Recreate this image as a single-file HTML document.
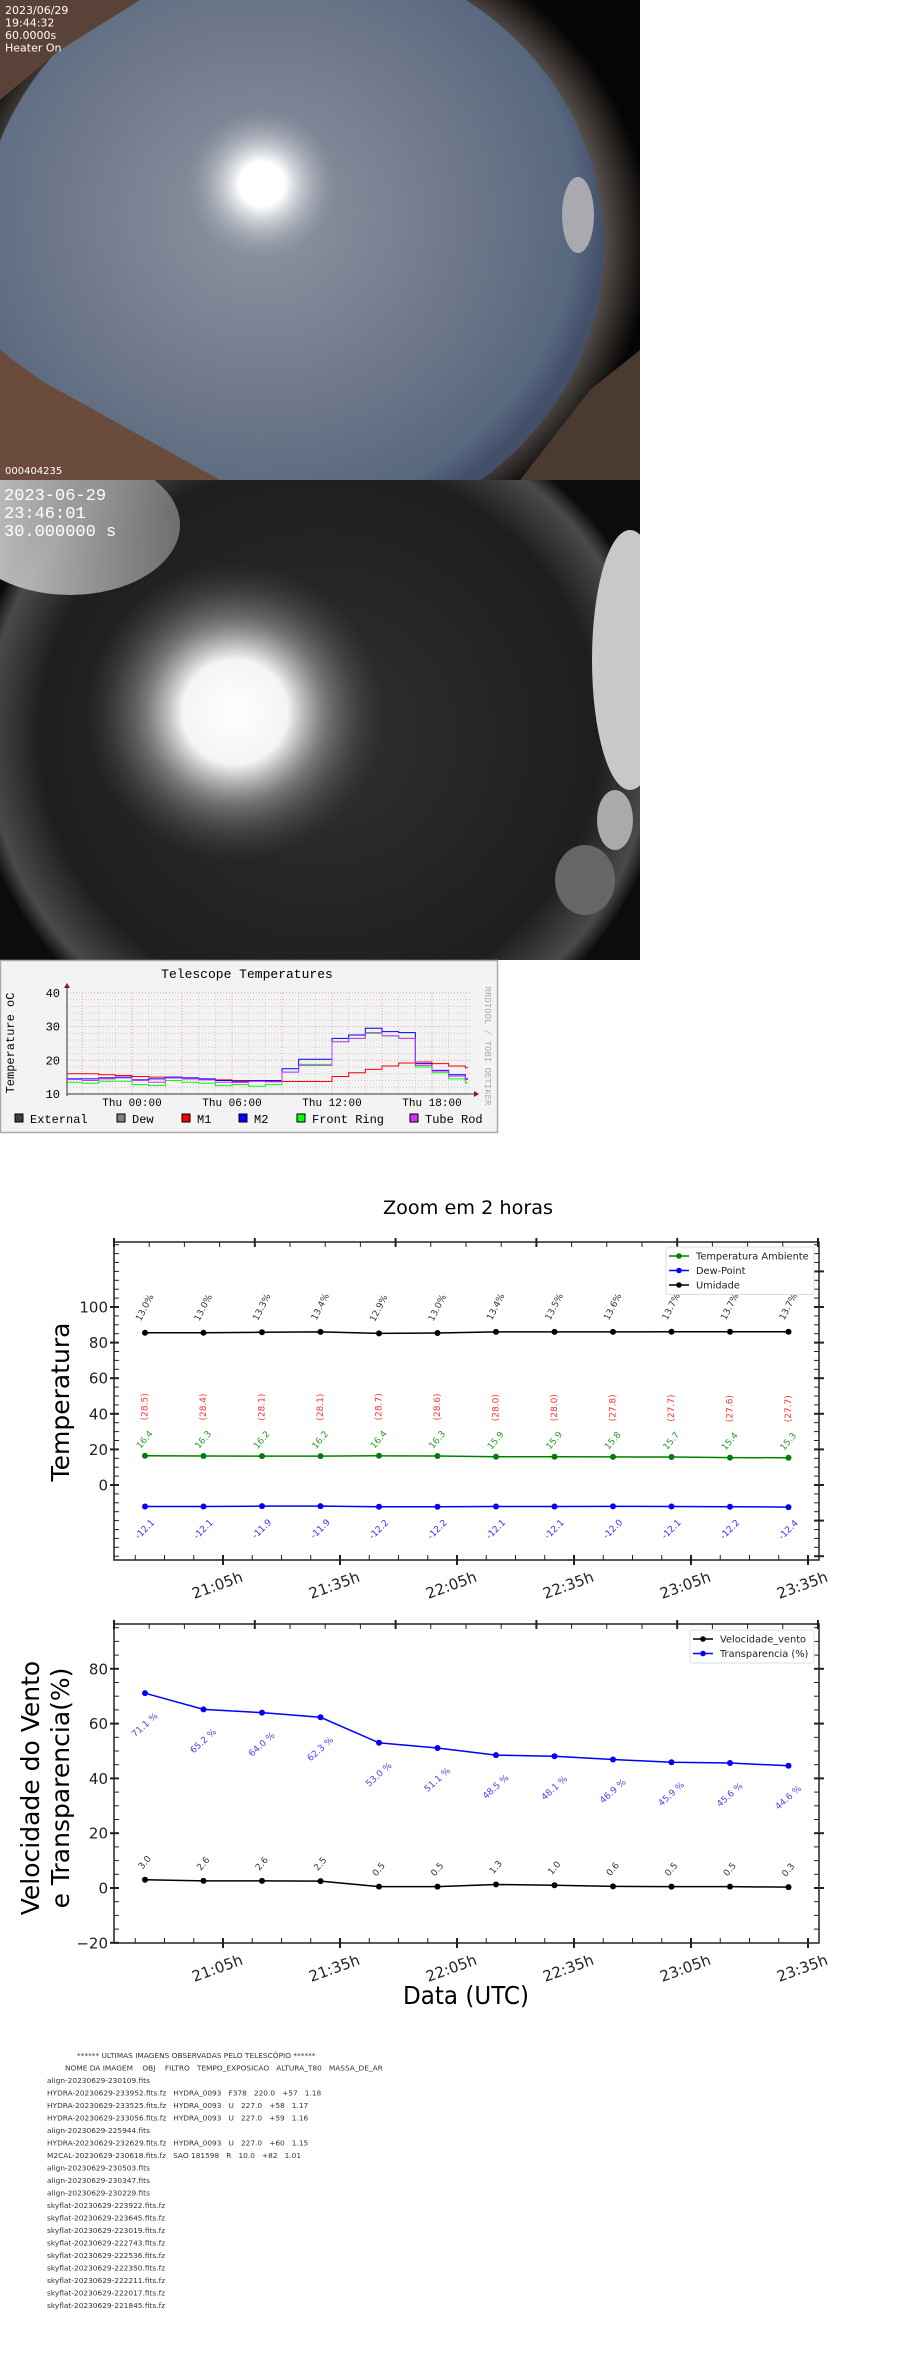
<!DOCTYPE html>
<html><head><meta charset="utf-8"><style>
html,body{margin:0;padding:0;background:#fff;width:910px;height:2368px;overflow:hidden}
svg{display:block}
.mpl{font-family:"DejaVu Sans","Liberation Sans",sans-serif}
.mono{font-family:"Liberation Mono","DejaVu Sans Mono",monospace}
.dv{font-family:"DejaVu Sans","Liberation Sans",sans-serif}
#obs text{white-space:pre}
</style></head><body>
<svg id="page" xmlns="http://www.w3.org/2000/svg" width="910" height="2368" viewBox="0 0 910 2368">
<defs>
<clipPath id="clip1"><rect x="0" y="0" width="640" height="480"/></clipPath>
<clipPath id="clip2"><rect x="0" y="480" width="640" height="480"/></clipPath>
<radialGradient id="sky1" cx="0.45" cy="0.45" r="0.55"><stop offset="0" stop-color="#8e95a3"/><stop offset="0.6" stop-color="#6d7789"/><stop offset="0.92" stop-color="#58687f"/><stop offset="1" stop-color="#44506a"/></radialGradient>
<radialGradient id="sun1"><stop offset="0" stop-color="#fff"/><stop offset="0.3" stop-color="#fff"/><stop offset="0.6" stop-color="#d0d2d8" stop-opacity="0.6"/><stop offset="1" stop-color="#9aa0ab" stop-opacity="0"/></radialGradient>
<radialGradient id="ring1" cx="0.5" cy="0.5" r="0.5"><stop offset="0.86" stop-color="#5a5450"/><stop offset="0.94" stop-color="#2a2624"/><stop offset="1" stop-color="#050505"/></radialGradient>
<radialGradient id="sky2" cx="0.5" cy="0.5" r="0.5"><stop offset="0" stop-color="#303030"/><stop offset="0.8" stop-color="#1e1e1e"/><stop offset="0.95" stop-color="#4a4a4a"/><stop offset="1" stop-color="#111"/></radialGradient>
<radialGradient id="sun2"><stop offset="0" stop-color="#fff"/><stop offset="0.35" stop-color="#f4f4f4"/><stop offset="0.6" stop-color="#8a8a8a" stop-opacity="0.8"/><stop offset="1" stop-color="#444" stop-opacity="0"/></radialGradient>
<linearGradient id="dome"><stop offset="0" stop-color="#ddd"/><stop offset="1" stop-color="#777"/></linearGradient>
</defs>

<g clip-path="url(#clip1)">
<rect x="0" y="0" width="640" height="480" fill="#050505"/>
<ellipse cx="300" cy="240" rx="350" ry="320" fill="url(#ring1)"/>
<ellipse cx="292" cy="245" rx="312" ry="295" fill="url(#sky1)"/>
<polygon points="0,350 0,480 220,480 130,430 40,380" fill="#6b4b3c"/>
<polygon points="0,0 140,0 60,50 0,100" fill="#5a4238"/>
<polygon points="590,390 640,350 640,480 520,480" fill="#4a3a30"/>
<circle cx="262" cy="184" r="75" fill="url(#sun1)"/>
<ellipse cx="578" cy="215" rx="16" ry="38" fill="#a9aab0"/>
<text x="5" y="14" fill="#fff" font-size="11" class="dv">2023/06/29</text>
<text x="5" y="26.5" fill="#fff" font-size="11" class="dv">19:44:32</text>
<text x="5" y="39" fill="#fff" font-size="11" class="dv">60.0000s</text>
<text x="5" y="51.5" fill="#fff" font-size="11" class="dv">Heater On</text>
<text x="5" y="474" fill="#fff" font-size="10" class="dv">000404235</text>
</g>

<g clip-path="url(#clip2)">
<rect x="0" y="480" width="640" height="480" fill="#0c0c0c"/>
<ellipse cx="320" cy="735" rx="350" ry="340" fill="url(#sky2)"/>
<circle cx="235" cy="712" r="150" fill="url(#sun2)"/>
<ellipse cx="70" cy="525" rx="110" ry="70" fill="url(#dome)" opacity="0.9"/>
<ellipse cx="630" cy="660" rx="38" ry="130" fill="#c8c8c8"/>
<ellipse cx="615" cy="820" rx="18" ry="30" fill="#aaa"/>
<ellipse cx="585" cy="880" rx="30" ry="35" fill="#666"/>
<text x="4" y="500" fill="#fff" font-size="17" class="mono">2023-06-29</text>
<text x="4" y="518" fill="#fff" font-size="17" class="mono">23:46:01</text>
<text x="4" y="536" fill="#fff" font-size="17" class="mono">30.000000 s</text>
</g>

<g id="tele">
<rect x="0.5" y="960.5" width="497" height="172" fill="#f3f3f3" stroke="#aaa" stroke-width="1.5"/>
<text x="247" y="978" text-anchor="middle" font-size="13" class="mono">Telescope Temperatures</text>
<text transform="translate(14,1043) rotate(-90)" text-anchor="middle" font-size="12" class="mono">Temperature oC</text>
<text transform="translate(485,1046) rotate(90)" text-anchor="middle" font-size="9" fill="#aaa" class="mono">RRDTOOL / TOBI OETIKER</text>
</g>

<g id="c1">
<text x="468" y="1214" text-anchor="middle" font-size="19" textLength="170" lengthAdjust="spacingAndGlyphs" class="mpl">Zoom em 2 horas</text>
<text transform="translate(69,1402) rotate(-90)" text-anchor="middle" font-size="25" class="dv">Temperatura</text>
</g>
<g id="c2">
<text transform="translate(39,1788) rotate(-90)" text-anchor="middle" font-size="25" class="dv">Velocidade do Vento</text>
<text transform="translate(69,1788) rotate(-90)" text-anchor="middle" font-size="25" class="dv">e Transparencia(%)</text>
<text x="466" y="2004" text-anchor="middle" font-size="25" textLength="126" lengthAdjust="spacingAndGlyphs" class="mpl">Data (UTC)</text>
</g>

<g id="obs" class="dv" font-size="7.4" fill="#333"></g>
</svg>

<script>
const NS = "http://www.w3.org/2000/svg";
function mk(tag, attrs, parent) { const e = document.createElementNS(NS, tag); for (const k in attrs) e.setAttribute(k, attrs[k]); parent.appendChild(e); return e; }

/* ---------- Telescope temperatures (rrdtool) ---------- */
const teleHours = [-4,-3,-2,-1,0,1,2,3,4,5,6,7,8,9,10,11,12,13,14,15,16,17,18,19,20];
const teleM1 = [16,16,15.7,15.5,15.2,15,14.8,14.5,14.3,14.2,14,13.8,13.7,13.7,13.7,13.7,15.2,16.3,17.3,18.3,19.2,19.5,19,18.3,17.8];
const teleM2 = [14.5,14.5,14.8,15,14.2,14.5,15,14.8,14.5,14,13.8,14,14,17.5,20.3,20.3,26.5,27.5,29.5,28.5,28.2,19,17,15.7,14.5];
const teleTube = [14.3,14,14.5,14.8,14,13.5,14.8,14.5,14.2,13.5,13.4,13.8,13.6,16.5,18.5,18.5,25.5,26.5,28.2,27.3,26.5,18.5,16.8,15.3,14.3];
const teleFront = [13.5,13.2,13.8,13.8,12.8,12.5,14,13.5,13.2,12.5,12.8,12.3,12.8,16.5,18.8,18.8,25.5,26.5,28,27.2,26.5,18,16.3,14.5,13.3];
const teleYTicks = [10,20,30,40];
const teleXTicks = [0,6,12,18];
const teleXLabels = ["Thu 00:00","Thu 06:00","Thu 12:00","Thu 18:00"];
const teleLegend = ["External","Dew","M1","M2","Front Ring","Tube Rod"];
const teleColors = ["#404040","#808080","#ff0000","#0000ff","#00ff00","#cc33ff"];

const tele = document.getElementById('tele');
const tx = t => Math.max(67, Math.min(468, 132 + t * 100 / 6));
const ty = v => 1094 - (v - 10) * 3.37;
const tgrid = mk('g', {}, tele);


for (let v = 10; v <= 40; v += 2) {
  mk('line', {x1: 67, x2: 470, y1: ty(v), y2: ty(v), stroke: v % 10 === 0 ? '#e8a0a0' : '#ccc', 'stroke-dasharray': '1,2', 'stroke-width': 1}, tgrid);
}
for (let t = -3; t <= 20; t++) {
  mk('line', {x1: tx(t), x2: tx(t), y1: 993, y2: 1094, stroke: t % 3 === 0 ? '#e8a0a0' : '#ccc', 'stroke-dasharray': '1,2', 'stroke-width': 1}, tgrid);
}
mk('line', {x1: 67, x2: 474, y1: 1094, y2: 1094, stroke: '#333', 'stroke-width': 1}, tele);
mk('line', {x1: 67, x2: 67, y1: 1096, y2: 987, stroke: '#333', 'stroke-width': 1}, tele);
mk('polygon', {points: '474,1091 479,1094 474,1097', fill: '#8b1a1a'}, tele);
mk('polygon', {points: '64,988 67,983 70,988', fill: '#8b1a1a'}, tele);
teleYTicks.forEach(v => {
  const t = mk('text', {x: 60, y: ty(v) + 4, 'text-anchor': 'end', 'font-size': 12, class: 'mono'}, tele);
  
  
  t.textContent = v;
});
teleXTicks.forEach((h, i) => {
  const t = mk('text', {x: tx(h), y: 1106, 'text-anchor': 'middle', 'font-size': 11, class: 'mono'}, tele);
  
  
  t.textContent = teleXLabels[i];
});
function stepPath(vals) {
  let d = '';
  teleHours.forEach((h, i) => {
    const x = tx(h), y = ty(vals[i]);
    if (i === 0) d += 'M' + x + ',' + y; else d += 'V' + y;
    const nx = i < teleHours.length - 1 ? tx(teleHours[i + 1]) : tx(20.2);
    d += 'H' + nx;
  });
  return d;
}
const s1 = mk('path', {d: stepPath(teleM1), fill: 'none', stroke: '#ff0000', 'stroke-width': 1}, tele);


const s2 = mk('path', {d: stepPath(teleFront), fill: 'none', stroke: '#00ff00', 'stroke-width': 1}, tele);


const s3 = mk('path', {d: stepPath(teleM2), fill: 'none', stroke: '#0000ff', 'stroke-width': 1}, tele);


const s4 = mk('path', {d: stepPath(teleTube), fill: 'none', stroke: '#cc33ff', 'stroke-width': 1}, tele);


const legX = [15, 117, 182, 239, 297, 410];
teleLegend.forEach((name, i) => {
  const g = mk('g', {}, tele);
  
  
  mk('rect', {x: legX[i], y: 1114, width: 8, height: 8, fill: teleColors[i], stroke: '#000', 'stroke-width': 1}, g);
  const t = mk('text', {x: legX[i] + 15, y: 1123, 'font-size': 12, class: 'mono'}, g);
  t.textContent = name;
});

/* ---------- Shared matplotlib helpers ---------- */
const times = [1245,1260,1275,1290,1305,1320,1335,1350,1365,1380,1395,1410];
const xTickMin = [1265,1295,1325,1355,1385,1415];
const xTickLabels = ["21:05h","21:35h","22:05h","22:35h","23:05h","23:35h"];
const mx = m => 223 + (m - 1265) / 30 * 117;
const L = 114, R = 819;

function axesFrame(parent, top, bottom, yfun, ymin, ymax, majorLabels, rightMajors) {
  mk('rect', {x: L, y: top, width: R - L, height: bottom - top, fill: 'none', stroke: '#222', 'stroke-width': 1.5}, parent);
  for (let v = Math.ceil(ymin / 5) * 5; v <= ymax; v += 5) {
    const y = yfun(v);
    if (y < top + 2 || y > bottom - 2) continue;
    mk('line', {x1: L, x2: L + 5, y1: y, y2: y, stroke: '#222', 'stroke-width': 1}, parent);
    mk('line', {x1: R - 5, x2: R, y1: y, y2: y, stroke: '#222', 'stroke-width': 1}, parent);
  }
  majorLabels.forEach(v => {
    const y = yfun(v);
    mk('line', {x1: L - 4, x2: L + 5, y1: y, y2: y, stroke: '#222', 'stroke-width': 2}, parent);
    const t = mk('text', {x: L - 6, y: y + 5.5, 'text-anchor': 'end', 'font-size': 15, fill: '#222', class: 'mpl'}, parent);
    
    
    t.textContent = v < 0 ? '\u2212' + Math.abs(v) : v;
  });
  rightMajors.forEach(v => {
    const y = yfun(v);
    if (y < top - 1 || y > bottom + 1) return;
    mk('line', {x1: R - 5, x2: R + 5, y1: y, y2: y, stroke: '#222', 'stroke-width': 2}, parent);
  });
  for (let k = 0; k <= 20; k++) {
    const x = L + k * 35.2;
    if (x > R + 1) break;
    if (k % 4 === 0) mk('line', {x1: x, x2: x, y1: top - 4, y2: top + 5, stroke: '#222', 'stroke-width': 2}, parent);
    else mk('line', {x1: x, x2: x, y1: top, y2: top + 5, stroke: '#222', 'stroke-width': 1}, parent);
  }
  for (let m = 1242.5; m <= 1416; m += 7.5) {
    const x = mx(m);
    if (x < L || x > R) continue;
    mk('line', {x1: x, x2: x, y1: bottom, y2: bottom - 5, stroke: '#222', 'stroke-width': 1}, parent);
  }
  xTickMin.forEach((m, i) => {
    const x = mx(m);
    mk('line', {x1: x, x2: x, y1: bottom - 5, y2: bottom + 5, stroke: '#222', 'stroke-width': 2}, parent);
    const t = mk('text', {transform: 'translate(' + (x - 4) + ',' + (bottom + 30) + ') rotate(-20)', 'text-anchor': 'middle', 'font-size': 15, fill: '#222', class: 'mpl'}, parent);
    
    
    t.textContent = xTickLabels[i];
  });
}
function series(parent, vals, yfun, color, name) {
  const g = mk('g', {}, parent);
  
  
  const pts = vals.map((v, i) => mx(times[i]) + ',' + yfun(v)).join(' ');
  mk('polyline', {points: pts, fill: 'none', stroke: color, 'stroke-width': 1.5}, g);
  vals.forEach((v, i) => mk('circle', {cx: mx(times[i]), cy: yfun(v), r: 3, fill: color}, g));
  return g;
}
function labels(parent, vals, yfun, texts, dy, rot, color, size, name) {
  vals.forEach((v, i) => {
    const t = mk('text', {transform: 'translate(' + mx(times[i]) + ',' + (yfun(v) + dy) + ') rotate(' + rot + ')', 'text-anchor': 'middle', 'dominant-baseline': 'middle', 'font-size': size, fill: color, class: 'dv'}, parent);
    
    
    t.textContent = texts[i];
  });
}
function legend(parent, x, y, w, entries, colors) {
  const g = mk('g', {}, parent);
  
  
  mk('rect', {x: x, y: y, width: w, height: entries.length * 14.5 + 4, rx: 2, fill: '#fff', stroke: '#ddd', 'stroke-width': 1}, g);
  entries.forEach((e, i) => {
    const cy = y + 9 + i * 14.5;
    mk('line', {x1: x + 3, x2: x + 23, y1: cy, y2: cy, stroke: colors[i], 'stroke-width': 1.5}, g);
    mk('circle', {cx: x + 13, cy: cy, r: 2.8, fill: colors[i]}, g);
    const t = mk('text', {x: x + 30, y: cy + 3.5, 'font-size': 9.8, fill: '#222', class: 'mpl'}, g);
    
    
    t.textContent = e;
  });
}

/* ---------- Chart 1: Temperatura ---------- */
const humVals = [85.5,85.5,85.8,86.0,85.2,85.4,86.0,86.0,86.0,86.1,86.1,86.1];
const humLabels = ["13.0%","13.0%","13.3%","13.4%","12.9%","13.0%","13.4%","13.5%","13.6%","13.7%","13.7%","13.7%"];
const tempVals = [16.4,16.3,16.2,16.2,16.4,16.3,15.9,15.9,15.8,15.7,15.4,15.3];
const domeVals = [28.5,28.4,28.1,28.1,28.7,28.6,28.0,28.0,27.8,27.7,27.6,27.7];
const dewVals = [-12.1,-12.1,-11.9,-11.9,-12.2,-12.2,-12.1,-12.1,-12.0,-12.1,-12.2,-12.4];
const c1 = document.getElementById('c1');
const y1 = v => 1485 - v * 1.78;
axesFrame(c1, 1242, 1560, y1, -42, 136, [0,20,40,60,80,100], [-40,-20,0,20,40,60,80,100,120]);
series(c1, humVals, y1, '#000', 'series-umidade');
series(c1, tempVals, y1, '#008000', 'series-temperatura-ambiente');
series(c1, dewVals, y1, '#0000ff', 'series-dew-point');
labels(c1, humVals, y1, humLabels, -25, -63, '#333', 9, 'umidade-label');
labels(c1, tempVals, y1, tempVals.map(v => v.toFixed(1)), -16, -50, '#2a9a2a', 9, 'temperatura-label');
labels(c1, tempVals, y1, domeVals.map(v => '(' + v.toFixed(1) + ')'), -49, -90, '#ff3333', 9, 'dome-temperature-label');
labels(c1, dewVals, y1, dewVals.map(v => v.toFixed(1)), 23, -45, '#3333ff', 9, 'dew-point-label');
legend(c1, 666, 1247, 148, ["Temperatura Ambiente","Dew-Point","Umidade"], ['#008000','#0000ff','#000']);

/* ---------- Chart 2: Vento / Transparencia ---------- */
const transVals = [71.1,65.2,64.0,62.3,53.0,51.1,48.5,48.1,46.9,45.9,45.6,44.6];
const windVals = [3.0,2.6,2.6,2.5,0.5,0.5,1.3,1.0,0.6,0.5,0.5,0.3];
const c2 = document.getElementById('c2');
const y2 = v => 1888 - v * 2.74;
axesFrame(c2, 1624, 1943, y2, -20, 96, [-20,0,20,40,60,80], [0,20,40,60,80]);
series(c2, windVals, y2, '#000', 'series-velocidade-vento');
series(c2, transVals, y2, '#0000ff', 'series-transparencia');
labels(c2, transVals, y2, transVals.map(v => v.toFixed(1) + ' %'), 32, -42, '#4444ff', 9, 'transparencia-label');
labels(c2, windVals, y2, windVals.map(v => v.toFixed(1)), -17, -50, '#333', 9, 'vento-label');
legend(c2, 690, 1630, 124, ["Velocidade_vento","Transparencia (%)"], ['#000','#0000ff']);

/* ---------- Observed images list ---------- */
const obsLines = [
 "align-20230629-230109.fits",
 "HYDRA-20230629-233952.fits.fz   HYDRA_0093   F378   220.0   +57   1.18",
 "HYDRA-20230629-233525.fits.fz   HYDRA_0093   U   227.0   +58   1.17",
 "HYDRA-20230629-233056.fits.fz   HYDRA_0093   U   227.0   +59   1.16",
 "align-20230629-225944.fits",
 "HYDRA-20230629-232629.fits.fz   HYDRA_0093   U   227.0   +60   1.15",
 "M2CAL-20230629-230618.fits.fz   SAO 181598   R   10.0   +82   1.01",
 "align-20230629-230503.fits",
 "align-20230629-230347.fits",
 "align-20230629-230229.fits",
 "skyflat-20230629-223922.fits.fz",
 "skyflat-20230629-223645.fits.fz",
 "skyflat-20230629-223019.fits.fz",
 "skyflat-20230629-222743.fits.fz",
 "skyflat-20230629-222536.fits.fz",
 "skyflat-20230629-222350.fits.fz",
 "skyflat-20230629-222211.fits.fz",
 "skyflat-20230629-222017.fits.fz",
 "skyflat-20230629-221845.fits.fz"
];
const obs = document.getElementById('obs');
const ht = mk('text', {x: 77, y: 2058}, obs);


ht.textContent = "****** ULTIMAS IMAGENS OBSERVADAS PELO TELESCÓPIO ******";
const hh = mk('text', {x: 65, y: 2070.5}, obs);


hh.textContent = "NOME DA IMAGEM    OBJ    FILTRO   TEMPO_EXPOSICAO   ALTURA_T80   MASSA_DE_AR";
obsLines.forEach((l, i) => {
  const t = mk('text', {x: 47, y: 2083 + i * 12.5}, obs);
  
  
  t.textContent = l;
});
</script>
</body></html>
